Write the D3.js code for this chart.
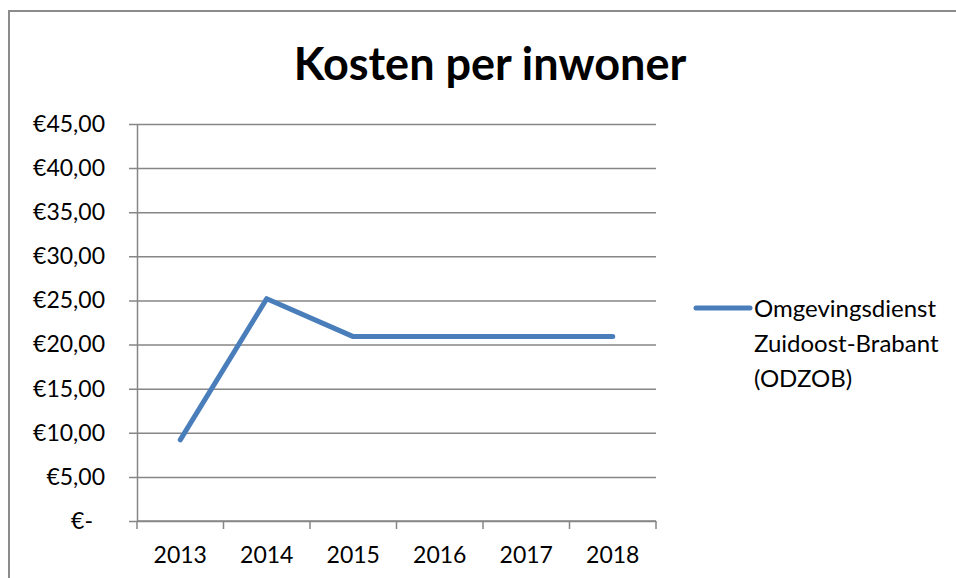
<!DOCTYPE html>
<html>
<head>
<meta charset="utf-8">
<script src="https://cdn.jsdelivr.net/npm/d3@7"></script>
<style>
  body { margin: 0; background: #fff; }
  text { font-family: Lato, 'Open Sans', sans-serif; fill: #000; }
</style>
</head>
<body>
<div id="app"></div>
<script>
const years = ['2013', '2014', '2015', '2016', '2017', '2018'];
const costs = [9.2, 25.2, 20.9, 20.9, 20.9, 20.9];
const yTicks = [0, 5, 10, 15, 20, 25, 30, 35, 40, 45];
const seriesName = ['Omgevingsdienst', 'Zuidoost-Brabant', '(ODZOB)'];
const chartTitle = 'Kosten per inwoner';

const width = 956;
const height = 578;
const plot = { left: 137, right: 656, top: 124, bottom: 521 };

const svg = d3.select('#app').append('svg')
  .attr('width', width)
  .attr('height', height);

// chart area border (runs off the picture on the right and bottom)
svg.append('path')
  .attr('d', `M9,${height + 5}V11H${width + 5}`)
  .attr('fill', 'none')
  .attr('stroke', '#8c8c8c')
  .attr('stroke-width', 2);

const xScale = d3.scaleBand()
  .domain(years)
  .range([plot.left, plot.right])
  .padding(0);

const yScale = d3.scaleLinear()
  .domain([0, 45])
  .range([plot.bottom, plot.top]);

// accounting style: zero shows as a dash
const euro = d => (d === 0 ? '€-' : '€' + d3.format('.2f')(d).replace('.', ','));

// gridlines, including the small outside ticks
const grid = svg.append('g')
  .attr('transform', `translate(${plot.right},0)`)
  .call(d3.axisLeft(yScale).tickValues(yTicks).tickSize(plot.right - plot.left + 8).tickFormat(''));
grid.select('.domain').remove();
grid.selectAll('.tick line').attr('stroke', '#868686').attr('stroke-width', 1.5);

// y axis line and labels
const yAxisGroup = svg.append('g')
  .attr('transform', `translate(${plot.left},0)`)
  .call(d3.axisLeft(yScale).tickValues(yTicks).tickSize(0).tickPadding(32).tickFormat(euro));
yAxisGroup.select('.domain').attr('stroke', '#868686').attr('stroke-width', 1.5);
yAxisGroup.selectAll('.tick text')
  .style('font-size', '23px')
  .attr('fill', '#000')
  .attr('dx', d => (d === 0 ? -12 : 0));

// x axis: ticks between categories
const xAxisGroup = svg.append('g')
  .attr('transform', `translate(0,${plot.bottom})`);
xAxisGroup.append('line')
  .attr('x1', plot.left).attr('x2', plot.right)
  .attr('stroke', '#868686').attr('stroke-width', 1.5);
const bounds = years.map(y => xScale(y)).concat([xScale(years[years.length - 1]) + xScale.bandwidth()]);
xAxisGroup.selectAll('line.xtick')
  .data(bounds)
  .enter()
  .append('line')
  .classed('xtick', true)
  .attr('x1', d => d).attr('x2', d => d)
  .attr('y1', 0).attr('y2', 8)
  .attr('stroke', '#868686').attr('stroke-width', 1.5);
xAxisGroup.selectAll('text')
  .data(years)
  .enter()
  .append('text')
  .attr('x', d => xScale(d) + xScale.bandwidth() / 2)
  .attr('y', 42)
  .attr('text-anchor', 'middle')
  .style('font-size', '23px')
  .text(d => d);

// the series line
const lineFunc = d3.line()
  .x((d, i) => xScale(years[i]) + xScale.bandwidth() / 2)
  .y(d => yScale(d));

svg.append('path')
  .datum(costs)
  .attr('d', lineFunc)
  .attr('fill', 'none')
  .attr('stroke', '#4a7ebb')
  .attr('stroke-width', 5)
  .attr('stroke-linejoin', 'round')
  .attr('stroke-linecap', 'round');

// title
svg.append('text')
  .attr('x', 490)
  .attr('y', 80)
  .attr('text-anchor', 'middle')
  .style('font-size', '45px')
  .style('font-weight', 'bold')
  .text(chartTitle);

// legend
const legend = svg.append('g').attr('transform', 'translate(696,308)');
legend.append('line')
  .attr('x1', 0).attr('x2', 54)
  .attr('stroke', '#4a7ebb')
  .attr('stroke-width', 5)
  .attr('stroke-linecap', 'round');
legend.selectAll('text')
  .data(seriesName)
  .enter()
  .append('text')
  .attr('x', 58)
  .attr('y', (d, i) => 9 + i * 35)
  .style('font-size', '24px')
  .text(d => d);
</script>
</body>
</html>
